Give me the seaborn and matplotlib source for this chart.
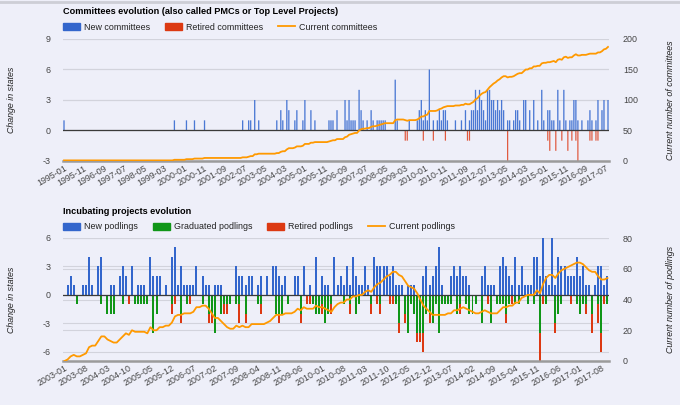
import numpy as np
import pandas as pd
import matplotlib
matplotlib.use("Agg")
import matplotlib.pyplot as plt
import matplotlib.transforms as mtransforms
from matplotlib.patches import Patch
from matplotlib.lines import Line2D
import seaborn as sns

BG = "#eeeff9"
GRID = "#d2d3dc"
BLUE = "#3366cc"
RED = "#dc3912"
GREEN = "#109618"
ORANGE = "#ff9900"
TXT = "#444444"
FS = 6.4

# ---- Committees (monthly, 1995-01 .. 2017-08) ----
committee_months = pd.period_range("1995-01", "2017-08", freq="M").strftime("%Y-%m").tolist()

new_committee_months = [
    "1995-01", "1999-08", "2000-02", "2000-06", "2000-11", "2002-06", "2002-09", "2002-10",
    "2002-12", "2003-02", "2003-11", "2004-01", "2004-02", "2004-04", "2004-05", "2004-08",
    "2004-09", "2004-12", "2005-01", "2005-04", "2005-06", "2006-01", "2006-02", "2006-03",
    "2006-05", "2006-09", "2006-10", "2006-11", "2006-12", "2007-01", "2007-02", "2007-04",
    "2007-05", "2007-06", "2007-08", "2007-10", "2007-11", "2008-01", "2008-02", "2008-03",
    "2008-04", "2008-05", "2008-10", "2008-11", "2009-05", "2009-09", "2009-10", "2009-11",
    "2009-12", "2010-01", "2010-02", "2010-03", "2010-05", "2010-07", "2010-08", "2010-09",
    "2010-10", "2010-11", "2010-12", "2011-04", "2011-07", "2011-09", "2011-11", "2011-12",
    "2012-01", "2012-02", "2012-03", "2012-04", "2012-05", "2012-06", "2012-07", "2012-08",
    "2012-09", "2012-10", "2012-11", "2012-12", "2013-01", "2013-02", "2013-03", "2013-04",
    "2013-06", "2013-07", "2013-09", "2013-10", "2013-11", "2013-12", "2014-02", "2014-03",
    "2014-05", "2014-07", "2014-09", "2014-11", "2014-12", "2015-02", "2015-03", "2015-04",
    "2015-05", "2015-07", "2015-08", "2015-10", "2015-11", "2016-01", "2016-02", "2016-03",
    "2016-04", "2016-05", "2016-07", "2016-10", "2016-11", "2016-12", "2017-02", "2017-03",
    "2017-05", "2017-06", "2017-08"]
new_committee_counts = [
    1, 1, 1, 1, 1, 1, 1, 1,
    3, 1, 1, 2, 1, 3, 2, 1,
    2, 1, 3, 2, 1, 1, 1, 1,
    2, 3, 1, 3, 1, 1, 1, 4,
    2, 1, 1, 2, 1, 1, 1, 1,
    1, 1, 5, 1, 1, 1, 2, 3,
    1, 2, 1, 6, 1, 1, 2, 1,
    2, 2, 1, 1, 1, 2, 1, 2,
    2, 4, 2, 4, 3, 2, 1, 4,
    4, 3, 3, 2, 3, 2, 3, 2,
    1, 1, 1, 2, 2, 1, 3, 3,
    2, 3, 1, 4, 1, 2, 2, 1,
    1, 4, 1, 4, 1, 1, 1, 3,
    3, 1, 1, 1, 2, 1, 1, 3,
    2, 3, 3]

retired_committee_months = [
    "2009-03", "2009-04", "2009-12", "2010-05", "2010-11", "2011-10", "2011-11", "2013-06",
    "2015-02", "2015-03", "2015-06", "2015-09", "2015-12", "2016-02", "2016-04", "2016-05",
    "2016-11", "2016-12", "2017-02", "2017-03"]
retired_committee_counts = [
    -1, -1, -1, -1, -1, -1, -1, -3,
    -1, -2, -2, -1, -2, -1, -1, -3,
    -1, -1, -1, -1]

current_committees = [
    1, 1, 1, 1, 1, 1, 1, 1, 1, 1, 1, 1,                          # 1995
    1, 1, 1, 1, 1, 1, 1, 1, 1, 1, 1, 1,                          # 1996
    1, 1, 1, 1, 1, 1, 1, 1, 1, 1, 1, 1,                          # 1997
    1, 1, 1, 1, 1, 1, 1, 1, 1, 1, 1, 1,                          # 1998
    1, 1, 1, 1, 1, 1, 1, 2, 2, 2, 2, 2,                          # 1999
    2, 3, 3, 3, 3, 4, 4, 4, 4, 4, 5, 5,                          # 2000
    5, 5, 5, 5, 5, 5, 5, 5, 5, 5, 5, 5,                          # 2001
    5, 5, 5, 5, 5, 6, 6, 6, 7, 8, 8, 11,                         # 2002
    11, 12, 12, 12, 12, 12, 12, 12, 12, 12, 13, 13,              # 2003
    15, 16, 16, 19, 21, 21, 21, 22, 24, 24, 24, 25,              # 2004
    28, 28, 28, 30, 30, 31, 31, 31, 31, 31, 31, 31,              # 2005
    32, 33, 34, 34, 36, 36, 36, 36, 39, 40, 43, 44,              # 2006
    45, 46, 46, 50, 52, 53, 53, 54, 54, 56, 57, 57,              # 2007
    58, 59, 60, 61, 62, 62, 62, 62, 62, 67, 68, 68,              # 2008
    68, 68, 67, 66, 67, 67, 67, 67, 68, 70, 73, 73,              # 2009
    75, 76, 82, 82, 82, 82, 83, 85, 86, 88, 89, 90,              # 2010
    90, 90, 90, 91, 91, 91, 92, 92, 94, 93, 93, 95,              # 2011
    97, 101, 103, 107, 110, 112, 113, 117, 121, 124, 127, 129,   # 2012
    132, 134, 137, 139, 139, 137, 138, 138, 139, 141, 143, 144,  # 2013
    144, 147, 150, 150, 152, 152, 155, 155, 156, 156, 160, 161,  # 2014
    161, 162, 162, 163, 164, 162, 166, 167, 166, 170, 171, 169,  # 2015
    170, 170, 173, 175, 173, 173, 174, 174, 174, 175, 176, 176,  # 2016
    176, 176, 178, 178, 180, 183, 184, 187]                      # 2017

# ---- Podlings (monthly, 2003-01 .. 2017-10) ----
podling_months = pd.period_range("2003-01", "2017-10", freq="M").strftime("%Y-%m").tolist()

new_podlings = [
    0, 1, 2, 1, 0, 0, 1, 1, 4, 1, 0, 3,   # 2003
    4, 0, 0, 1, 1, 0, 2, 3, 2, 0, 3, 0,   # 2004
    1, 1, 1, 0, 4, 2, 2, 2, 0, 1, 0, 4,   # 2005
    5, 1, 3, 1, 1, 1, 1, 3, 0, 2, 1, 1,   # 2006
    0, 1, 1, 1, 0, 0, 0, 0, 3, 2, 2, 1,   # 2007
    2, 2, 0, 1, 2, 0, 2, 0, 3, 3, 2, 1,   # 2008
    2, 0, 0, 2, 2, 0, 3, 0, 1, 0, 4, 0,   # 2009
    2, 1, 1, 0, 4, 1, 2, 1, 3, 1, 4, 2,   # 2010
    1, 1, 3, 1, 0, 4, 3, 3, 3, 3, 2, 3,   # 2011
    1, 1, 1, 0, 1, 1, 1, 0, 0, 2, 3, 1,   # 2012
    2, 3, 5, 1, 0, 0, 2, 3, 2, 3, 2, 2,   # 2013
    1, 0, 0, 0, 2, 3, 1, 1, 1, 0, 3, 4,   # 2014
    3, 2, 1, 4, 1, 3, 1, 1, 1, 4, 4, 2,   # 2015
    6, 2, 1, 6, 1, 4, 3, 3, 2, 2, 2, 4,   # 2016
    2, 3, 1, 1, 0, 1, 3, 3, 1, 2]         # 2017

graduated_podlings = [
    0, 0, 0, 0, -1, 0, 0, 0, 0, 0, 0, 0,
    -1, 0, -2, -2, -2, 0, 0, -1, 0, 0, 0, -1,
    -1, -1, -1, -1, 0, -4, -2, 0, 0, 0, 0, -1,
    0, 0, -2, 0, -1, 0, 0, 0, 0, -1, 0, -2,
    -2, -4, 0, -2, -1, -1, -1, 0, -1, -1, 0, -2,
    0, 0, 0, -1, -1, 0, 0, 0, 0, -2, -2, -2,
    0, -1, 0, 0, 0, -2, 0, 0, 0, -1, -2, -2,
    -1, -3, -2, -1, 0, 0, 0, -1, 0, -1, 0, -2,
    -1, 0, 0, 0, -1, 0, 0, -1, 0, 0, 0, 0,
    -1, -3, 0, -2, -4, -1, -2, -4, -4, -4, -2, -2,
    -3, -1, -4, -1, -1, -1, -1, 0, -2, -1, 0, -1,
    -2, -2, -1, 0, -3, 0, 0, -3, 0, -1, -1, -1,
    -2, -1, 0, -1, -1, 0, 0, -1, 0, -1, 0, -4,
    0, -1, 0, 0, -3, -2, -1, 0, 0, 0, 0, -1,
    -2, -1, -1, 0, -2, 0, -1, -4, 0, -1]

retired_podlings = [
    0, 0, 0, 0, 0, 0, 0, 0, 0, 0, 0, 0,
    0, 0, 0, 0, 0, 0, 0, 0, 0, -1, 0, 0,
    0, 0, 0, 0, 0, 0, 0, 0, 0, 0, 0, -1,
    -1, 0, -1, 0, 0, -1, 0, 0, 0, 0, 0, -1,
    -1, 0, 0, 0, -1, -1, 0, 0, 0, -2, 0, -1,
    0, 0, 0, 0, -1, 0, 0, 0, 0, 0, -1, 0,
    0, 0, 0, 0, 0, -1, 0, -1, -1, 0, 0, 0,
    -1, 0, 0, -1, 0, 0, 0, 0, 0, -1, 0, 0,
    0, 0, 0, 0, -1, 0, -1, -1, 0, 0, -1, -1,
    0, -1, 0, -1, 0, 0, 0, -1, -1, -2, 0, -1,
    0, 0, 0, 0, 0, 0, 0, 0, 0, -1, 0, 0,
    0, 0, 0, 0, 0, 0, -1, 0, 0, 0, 0, 0,
    -1, 0, -1, 0, 0, 0, 0, 0, 0, 0, 0, -3,
    -1, 0, 0, 0, -1, 0, 0, 0, 0, -1, 0, 0,
    0, 0, -1, 0, -2, 0, -2, -2, -1, 0]

current_podlings = [
    0, 1, 3, 4, 3, 3, 4, 5, 9, 10, 10, 13,
    16, 16, 14, 13, 12, 12, 14, 16, 18, 17, 20, 19,
    19, 19, 19, 18, 22, 20, 20, 22, 22, 23, 23, 25,
    29, 30, 30, 31, 31, 31, 32, 35, 35, 36, 36, 34,
    31, 28, 28, 26, 24, 22, 21, 21, 23, 22, 23, 22,
    22, 24, 24, 24, 24, 24, 25, 26, 28, 30, 30, 30,
    31, 31, 31, 32, 34, 33, 35, 34, 34, 34, 36, 35,
    35, 34, 33, 32, 35, 37, 38, 38, 40, 40, 42, 42,
    43, 43, 45, 46, 45, 48, 50, 51, 53, 55, 56, 58,
    58, 56, 55, 52, 49, 48, 47, 44, 40, 36, 34, 32,
    30, 30, 30, 30, 30, 31, 31, 33, 33, 34, 35, 34,
    33, 32, 31, 31, 32, 33, 32, 31, 31, 31, 33, 35,
    35, 36, 36, 38, 38, 41, 42, 43, 43, 43, 46, 44,
    50, 54, 56, 56, 54, 57, 59, 60, 61, 62, 63, 64,
    64, 63, 61, 59, 58, 58, 55, 53, 53, 54]

# build tables
com = pd.DataFrame({"month": committee_months})
com["pos"] = np.arange(len(com))
com["new"] = com["month"].map(dict(zip(new_committee_months, new_committee_counts))).fillna(0)
com["retired"] = com["month"].map(dict(zip(retired_committee_months, retired_committee_counts))).fillna(0)
com["current"] = current_committees

pod = pd.DataFrame({"month": podling_months,
                    "new": new_podlings,
                    "graduated": graduated_podlings,
                    "retired": retired_podlings,
                    "current": current_podlings})
pod["pos"] = np.arange(len(pod))
pod["out_total"] = pod["graduated"] + pod["retired"]

plt.rcParams["font.family"] = ["Liberation Sans", "DejaVu Sans"]

fig = plt.figure(figsize=(6.8, 4.05), dpi=100, facecolor=BG)
W, H = 680.0, 405.0


def bars(ax, df, col, color, width, snap=None):
    # only months with a value, so no empty rectangles get drawn
    sub = df[df[col] != 0]
    sns.barplot(x=sub["pos"], y=sub[col], native_scale=True, color=color, saturation=1,
                width=width, linewidth=0, edgecolor="none", errorbar=None, ax=ax,
                zorder=2, snap=snap)


def make_axes(top_px, bottom_px):
    ax = fig.add_axes([63 / W, 1 - bottom_px / H, 546 / W, (bottom_px - top_px) / H])
    ax.set_facecolor(BG)
    ax2 = ax.twinx()
    for a in (ax, ax2):
        for s in a.spines.values():
            s.set_visible(False)
        a.tick_params(length=0, labelsize=FS, labelcolor=TXT)
    ax.tick_params(axis="y", pad=9)
    ax2.tick_params(axis="y", pad=10)
    ax.tick_params(axis="x", pad=2)
    return ax, ax2


def finish_axes(ax, ax2, df, left_lim, left_ticks, right_lim, right_ticks, step, right_label):
    ax.set_ylim(*left_lim)
    ax.set_yticks(left_ticks)
    ax.set_yticklabels([str(t) for t in left_ticks])
    ax2.set_ylim(*right_lim)
    ax2.set_yticks(right_ticks)
    ax2.set_yticklabels([str(t) for t in right_ticks])
    ax.grid(axis="y", color=GRID, lw=0.8)
    ax.grid(axis="x", visible=False)
    ax2.grid(False)
    ax.set_axisbelow(True)
    trans = mtransforms.blended_transform_factory(ax.transAxes, ax2.transData)
    for v in right_ticks:
        ax.plot([0, 1], [v, v], transform=trans, color=GRID, lw=0.8, zorder=0)
    ax.axhline(0, color="#3a3a3a", lw=0.9, zorder=3)
    ax2.axhline(right_lim[0], color="#9b9b9b", lw=1.8, clip_on=False, zorder=1)
    ax.set_xlim(-0.5, len(df) - 0.5)
    ticks = df["pos"].iloc[::step]
    ax.set_xticks(ticks)
    ax.set_xticklabels(df["month"].iloc[::step], rotation=30, ha="right",
                       rotation_mode="anchor", fontsize=FS, color=TXT)
    ax.set_xlabel("")
    ax.set_ylabel("Change in states", fontsize=FS, style="italic", color="#222222")
    ax.yaxis.set_label_coords(-0.086, 0.5)
    ax2.set_ylabel(right_label, fontsize=FS, style="italic", color="#222222", rotation=90)
    ax2.yaxis.set_label_coords(1.104, 0.5)


# ---- top panel ----
ax, ax2 = make_axes(39, 161)
bars(ax, com, "new", "#4a78d4", 0.65, snap=False)
bars(ax, com, "retired", "#e0573c", 0.6, snap=False)
sns.lineplot(x=com["pos"], y=com["current"], color=ORANGE, linewidth=1.3, ax=ax2)
finish_axes(ax, ax2, com, (-3, 9), [-3, 0, 3, 6, 9], (0, 200), [0, 50, 100, 150, 200], 10,
            "Current number of committees")

fig.text(63 / W, 1 - 11 / H, "Committees evolution (also called PMCs or Top Level Projects)",
         fontsize=6.6, weight="bold", va="center", ha="left")
fig.legend(handles=[Patch(color=BLUE, label="New committees"),
                    Patch(color=RED, label="Retired committees"),
                    Line2D([], [], color=ORANGE, lw=1.3, label="Current committees")],
           loc="center left", bbox_to_anchor=(63 / W, 1 - 27 / H), ncol=3, frameon=False,
           borderpad=0, borderaxespad=0, handlelength=1.9, handleheight=0.9,
           handletextpad=0.45, columnspacing=1.7, fontsize=FS, labelcolor="#222222")

# ---- bottom panel ----
bx, bx2 = make_axes(238, 361)
bars(bx, pod, "new", BLUE, 0.65)
bars(bx, pod, "out_total", RED, 0.65)
bars(bx, pod, "graduated", GREEN, 0.65)
sns.lineplot(x=pod["pos"], y=pod["current"], color=ORANGE, linewidth=1.3, ax=bx2)
finish_axes(bx, bx2, pod, (-7, 6), [-6, -3, 0, 3, 6], (0, 80), [0, 20, 40, 60, 80], 7,
            "Current number of podlings")

fig.text(63 / W, 1 - 212 / H, "Incubating projects evolution",
         fontsize=6.6, weight="bold", va="center", ha="left")
fig.legend(handles=[Patch(color=BLUE, label="New podlings"),
                    Patch(color=GREEN, label="Graduated podlings"),
                    Patch(color=RED, label="Retired podlings"),
                    Line2D([], [], color=ORANGE, lw=1.3, label="Current podlings")],
           loc="center left", bbox_to_anchor=(63 / W, 1 - 227 / H), ncol=4, frameon=False,
           borderpad=0, borderaxespad=0, handlelength=1.9, handleheight=0.9,
           handletextpad=0.45, columnspacing=1.7, fontsize=FS, labelcolor="#222222")

fig.add_artist(Line2D([0, 1], [1 - 1.5 / H, 1 - 1.5 / H], color="#cdced6", lw=2))

fig.savefig("out.png", dpi=100, facecolor=BG)
